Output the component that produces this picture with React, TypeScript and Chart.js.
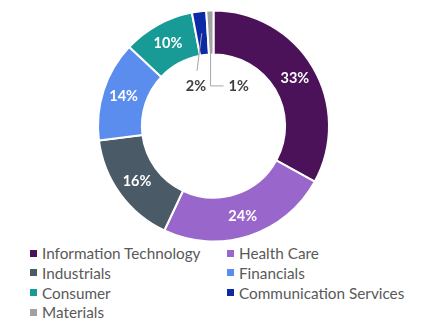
import React, { useEffect, useRef } from "react";
import { Chart, registerables } from "chart.js";

Chart.register(...registerables);

const categories = [
  "Information Technology",
  "Health Care",
  "Industrials",
  "Financials",
  "Consumer",
  "Communication Services",
  "Materials",
];
const weights = [33, 24, 16, 14, 10, 2, 1];
const sliceColors = ["#4b1259", "#9966cc", "#4a5a66", "#5b8def", "#189b97", "#0c2aa6", "#a0a0a0"];
const labelTexts = ["33%", "24%", "16%", "14%", "10%", "2%", "1%"];

const FONT = "Lato, 'Open Sans', sans-serif";

const labelPlugin = {
  id: "sliceLabels",
  afterDatasetsDraw(chart: any) {
    const ctx = chart.ctx;
    const meta = chart.getDatasetMeta(0);
    ctx.save();
    ctx.textAlign = "center";
    ctx.textBaseline = "middle";
    meta.data.forEach((arc: any, i: number) => {
      const p = arc.getProps(["x", "y", "startAngle", "endAngle", "innerRadius", "outerRadius"], true);
      const mid = (p.startAngle + p.endAngle) / 2;
      const r = (p.innerRadius + p.outerRadius) / 2;
      ctx.font = `bold 14.5px ${FONT}`;
      if (weights[i] >= 5) {
        ctx.fillStyle = "#ffffff";
        ctx.fillText(labelTexts[i], p.x + Math.cos(mid) * (r + 1), p.y + Math.sin(mid) * (r + 1));
      } else {
        const sx = p.x + Math.cos(mid) * r;
        const sy = p.y + Math.sin(mid) * r;
        const ly = p.y - p.innerRadius * 0.56;
        ctx.strokeStyle = "#a6a6a6";
        ctx.lineWidth = 1;
        ctx.fillStyle = "#404040";
        ctx.beginPath();
        if (i === weights.length - 1) {
          ctx.moveTo(sx, sy);
          ctx.lineTo(sx, ly);
          ctx.lineTo(sx + 13, ly);
          ctx.stroke();
          ctx.textAlign = "left";
          ctx.fillText(labelTexts[i], sx + 18, ly);
        } else {
          const lx = p.x - p.innerRadius * 0.245;
          ctx.moveTo(sx, sy);
          ctx.lineTo(lx + 1, ly - 15);
          ctx.stroke();
          ctx.textAlign = "center";
          ctx.fillText(labelTexts[i], lx, ly);
        }
      }
    });
    ctx.restore();
  },
};

export default function App() {
  const ref = useRef<HTMLCanvasElement | null>(null);
  useEffect(() => {
    document.body.style.margin = "0";
    const chart = new Chart(ref.current as HTMLCanvasElement, {
      type: "doughnut",
      data: {
        labels: categories,
        datasets: [
          {
            data: weights,
            backgroundColor: sliceColors,
            borderColor: "#ffffff",
            borderWidth: 2,
          },
        ],
      },
      options: {
        animation: false,
        responsive: false,
        cutout: "62%",
        layout: { padding: { top: 9.5, bottom: 0.5, left: 0, right: 0 } },
        plugins: {
          legend: { display: false },
          tooltip: { enabled: false },
        },
      },
      plugins: [labelPlugin],
    });
    return () => chart.destroy();
  }, []);

  return (
    <div style={{ position: "relative", width: 427, height: 321, background: "#fff", overflow: "hidden" }}>
      <canvas ref={ref} width={427} height={243} style={{ position: "absolute", left: 0, top: 0 }} />
      {categories.map((c, i) => {
        const col = i % 2;
        const row = Math.floor(i / 2);
        return (
          <div
            key={c}
            style={{
              position: "absolute",
              left: col ? 227 : 30,
              top: 243 + row * 19.8,
              height: 20,
              display: "flex",
              alignItems: "center",
              whiteSpace: "nowrap",
              fontFamily: FONT,
              fontSize: 15.3,
              color: "#595959",
            }}
          >
            <span style={{ display: "inline-block", width: 7, height: 7, background: sliceColors[i], marginRight: 5 }} />
            {c}
          </div>
        );
      })}
    </div>
  );
}
